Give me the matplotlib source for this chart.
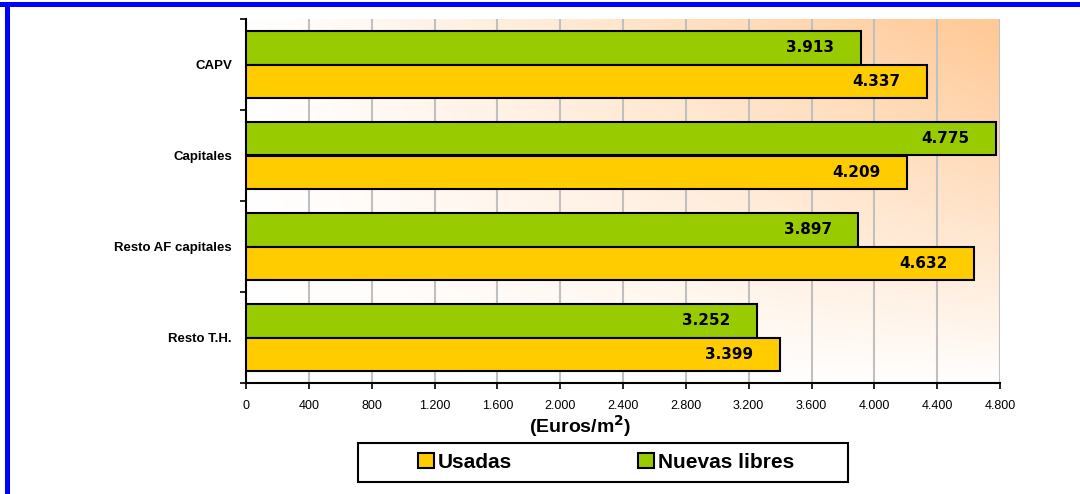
import matplotlib
matplotlib.use("Agg")
import matplotlib.pyplot as plt
import numpy as np
from matplotlib.patches import Rectangle

categories = ["CAPV", "Capitales", "Resto AF capitales", "Resto T.H."]
usadas = [4337, 4209, 4632, 3399]
nuevas = [3913, 4775, 3897, 3252]
usadas_lbl = ["4.337", "4.209", "4.632", "3.399"]
nuevas_lbl = ["3.913", "4.775", "3.897", "3.252"]
xticks = [0, 400, 800, 1200, 1600, 2000, 2400, 2800, 3200, 3600, 4000, 4400, 4800]
xtick_labels = ["0", "400", "800", "1.200", "1.600", "2.000", "2.400", "2.800",
                "3.200", "3.600", "4.000", "4.400", "4.800"]

GREEN = "#99CC00"
YELLOW = "#FFCC00"

plt.rcParams['font.family'] = ['Liberation Sans', 'DejaVu Sans']

fig = plt.figure(figsize=(10.8, 4.94), dpi=100)
fig.patch.set_facecolor("white")

# blue border (top and left)
fig.add_artist(Rectangle((0, 1 - 7/494), 1, 5/494, transform=fig.transFigure,
                         facecolor="#0000FF", edgecolor="none"))
fig.add_artist(Rectangle((5/1080, 0), 5/1080, 1 - 2/494, transform=fig.transFigure,
                         facecolor="#0000FF", edgecolor="none"))

ax = fig.add_axes([246/1080, 1 - 383/494, 754/1080, 364/494])

n = len(categories)
ax.set_xlim(0, 4800)
ax.set_ylim(n, 0)

# gradient background
gx = np.linspace(0, 1, 300)
gy = np.linspace(0, 1, 200)
X, Y = np.meshgrid(gx, gy)
t = np.clip((X ** 1.1) * (Y ** 0.9) * 1.05, 0, 1)
c0 = np.array([1.0, 1.0, 1.0])
c1 = np.array([255, 202, 152]) / 255.0
img = c0[None, None, :] * (1 - t[..., None]) + c1[None, None, :] * t[..., None]
ax.imshow(img, extent=[0, 4800, n, 0], origin="lower", aspect="auto", zorder=0)

for xv in xticks[1:]:
    ax.axvline(xv, color="#C0C0C0", lw=1.5, zorder=1)

h = 0.365
pos = np.arange(n)
ax.barh(pos + 0.5 - h / 2, nuevas, height=h, color=GREEN, edgecolor="black", lw=1.5, zorder=3)
ax.barh(pos + 0.5 + h / 2, usadas, height=h, color=YELLOW, edgecolor="black", lw=1.5, zorder=3)

for i in range(n):
    ax.annotate(nuevas_lbl[i], (nuevas[i], i + 0.5 - h / 2), xytext=(-19, 0),
                textcoords="offset points", ha="right", va="center",
                fontsize=11, fontweight="bold", family="DejaVu Sans", zorder=4)
    ax.annotate(usadas_lbl[i], (usadas[i], i + 0.5 + h / 2), xytext=(-19, 0),
                textcoords="offset points", ha="right", va="center",
                fontsize=11, fontweight="bold", family="DejaVu Sans", zorder=4)

ax.set_yticks(np.arange(n + 1))
ax.set_yticklabels([])
ax.set_yticks(pos + 0.5, minor=True)
ax.set_yticklabels(categories, minor=True, fontsize=9.5, fontweight="bold")
ax.tick_params(axis="y", which="minor", length=0, pad=10)
ax.tick_params(axis="y", which="major", length=4, width=1.2, direction="out")

ax.set_xticks(xticks)
ax.set_xticklabels(xtick_labels, fontsize=9)
ax.tick_params(axis="x", length=4, width=1.2, direction="out", pad=8)

for s in ["top", "right"]:
    ax.spines[s].set_visible(False)
ax.spines["left"].set_linewidth(1.5)
ax.spines["bottom"].set_linewidth(1.5)

fig.text(580/1080, 1 - 426/494, "(Euros/m$^{\\mathbf{2}}$)", ha="center", va="center",
         fontsize=14, fontweight="bold")

# legend frame
fig.add_artist(Rectangle((358/1080, 1 - 482/494), 490/1080, 39/494,
                         transform=fig.transFigure, facecolor="white",
                         edgecolor="black", lw=1.5, zorder=4))
handles = [Rectangle((0, 0), 1, 1, facecolor=YELLOW, edgecolor="black", lw=1.5),
           Rectangle((0, 0), 1, 1, facecolor=GREEN, edgecolor="black", lw=1.5)]
leg = fig.legend(handles, ["Usadas", "Nuevas libres"], ncol=2,
                 loc="center", bbox_to_anchor=(606/1080, 1 - 462/494),
                 frameon=False,
                 prop={"size": 15, "weight": "bold"},
                 handlelength=0.75, handleheight=0.75, handletextpad=0.2,
                 columnspacing=6.05, borderpad=0.3, borderaxespad=0)
leg.set_zorder(5)

fig.savefig("out.png", dpi=100)
